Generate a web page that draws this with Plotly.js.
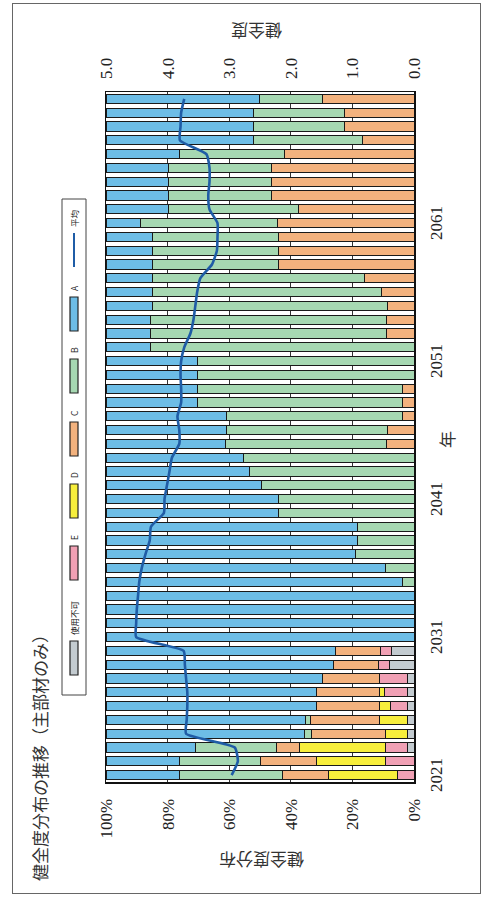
<!DOCTYPE html>
<html>
<head>
<meta charset="utf-8">
<script src="https://cdn.plot.ly/plotly-3.0.1.min.js"></script>
<style>
  html, body { margin:0; padding:0; background:#ffffff; width:491px; height:899px; overflow:hidden; }
  #wrap { position:absolute; left:0; top:0; width:899px; height:491px;
          transform-origin:0 0; transform:translate(0px, 899px) rotate(-90deg); }
  #chart { width:899px; height:491px; }
  #frame { position:absolute; left:12px; top:3px; width:467px; height:889px;
           border:1px solid #666; pointer-events:none; }
</style>
</head>
<body>
<div id="wrap"><div id="chart"></div></div>
<div id="frame"></div>
<script>
// ---- data (years 2021-2070), values in % ----
const years = [2021,2022,2023,2024,2025,2026,2027,2028,2029,2030,
               2031,2032,2033,2034,2035,2036,2037,2038,2039,2040,
               2041,2042,2043,2044,2045,2046,2047,2048,2049,2050,
               2051,2052,2053,2054,2055,2056,2057,2058,2059,2060,
               2061,2062,2063,2064,2065,2066,2067,2068,2069,2070];

const unusable = [0,0,2,2,2.2,2,2,2.2,7.8,7.3,
                  0,0,0,0,0,0,0,0,0,0,
                  0,0,0,0,0,0,0,0,0,0,
                  0,0,0,0,0,0,0,0,0,0,
                  0,0,0,0,0,0,0,0,0,0];
const gradeE = [5.5,9.3,7.4,0,0,5.6,7.6,9,3.7,3.5,
                0,0,0,0,0,0,0,0,0,0,
                0,0,0,0,0,0,0,0,0,0,
                0,0,0,0,0,0,0,0,0,0,
                0,0,0,0,0,0,0,0,0,0];
const gradeD = [22.4,22.2,27.8,7.4,9,3.5,1.6,0,0,0,
                0,0,0,0,0,0,0,0,0,0,
                0,0,0,0,0,0,0,0,0,0,
                0,0,0,0,0,0,0,0,0,0,
                0,0,0,0,0,0,0,0,0,0];
const gradeC = [14.8,18.4,7.4,24,22.5,20.4,20.4,18.4,14.5,14.7,
                0,0,0,0,0,0,0,0,0,0,
                0,0,0,0,8.9,8.7,3.6,3.6,3.6,0,
                0,0,9,9,8.7,10.5,16,44,44,44,
                44.4,37.4,46.3,46.3,46.3,42,16.7,22.5,22.5,29.8];
const gradeB = [33.4,26.2,26.2,2,1.6,0,0,0,0,0,
                0,0,0,0,3.8,9.2,19,18.4,18.4,43.9,
                43.9,49.6,53.5,55.3,52.4,52.3,57.4,66.8,66.8,70.4,
                70.4,85.4,76.4,76.4,76.3,74.5,69,41,41,41,
                44.4,42.2,33.4,33.4,33.4,34,35.3,29.5,29.5,20.3];
const gradeA = [23.9,23.9,29.2,64.6,64.7,68.5,68.4,70.4,74,74.5,
                100,100,100,100,96.2,90.8,81,81.6,81.6,56.1,
                56.1,50.4,46.5,44.7,38.7,39,39,29.6,29.6,29.6,
                29.6,14.6,14.6,14.6,15,15,15,15,15,15,
                11.2,20.4,20.3,20.3,20.3,24,48,48,48,49.9];
const average = [2.96,2.86,2.91,3.70,3.69,3.68,3.68,3.70,3.72,3.74,
                 4.51,4.51,4.50,4.48,4.46,4.42,4.36,4.29,4.27,4.06,
                 4.05,4.01,3.97,3.93,3.81,3.81,3.84,3.78,3.78,3.79,
                 3.78,3.73,3.63,3.58,3.55,3.52,3.47,3.28,3.20,3.19,
                 3.19,3.32,3.34,3.32,3.32,3.37,3.80,3.79,3.78,3.73];

const pctTicks = [0,20,40,60,80,100];
const scoreTicks = [0,1,2,3,4,5];
const yearTicks = [2021,2031,2041,2051,2061];

const seriesNames = ['使用不可','E','D','C','B','A'];
const seriesData  = [unusable, gradeE, gradeD, gradeC, gradeB, gradeA];
const seriesColors = ['#C3CBD0','#F0A0B4','#F7EE3C','#F3B27E','#A6D8B2','#6DBDE6'];
const lineName = '平均';
const lineColor = '#1F5CA6';

// ---- geometry of the (unrotated) chart ----
const W = 899, H = 491;
const M = {l:117, r:92, t:106, b:77};
const PW = W - M.l - M.r, PH = H - M.t - M.b;
function px(ox){ return (ox - M.l) / PW; }
function py(oy){ return 1 - (oy - M.t) / PH; }

const traces = seriesNames.map((n, i) => ({
  type:'bar', name:n, x:years, y:seriesData[i],
  marker:{color:seriesColors[i], line:{color:'#1a1a1a', width:1}},
  showlegend:false, hoverinfo:'skip'
}));
traces.push({
  type:'scatter', mode:'lines', name:lineName, x:years, y:average, yaxis:'y2',
  line:{color:lineColor, width:2.6, shape:'spline', smoothing:0.5},
  showlegend:false, hoverinfo:'skip'
});

const tickFont = {family:'Liberation Serif, Times New Roman, serif', size:17, color:'#222'};
const jpFont = 'Noto Sans CJK JP, sans-serif';

// ---- hand-built legend (long swatches like the original) ----
const shapes = [];
const annotations = [];
shapes.push({type:'rect', xref:'paper', yref:'paper', x0:px(204), x1:px(700), y0:py(86), y1:py(62),
             line:{color:'#444', width:1}, fillcolor:'rgba(255,255,255,0)'});
const legendX = [224, 319, 381, 443, 506, 568];
seriesNames.forEach((n, i) => {
  const sx = legendX[i];
  shapes.push({type:'rect', xref:'paper', yref:'paper', x0:px(sx), x1:px(sx+34), y0:py(78), y1:py(70),
               line:{color:'#222', width:1.2}, fillcolor:seriesColors[i]});
  annotations.push({xref:'paper', yref:'paper', x:px(sx+38), y:py(74), xanchor:'left', yanchor:'middle',
                    text:n, showarrow:false, font:{family:jpFont, size:8.5, color:'#222'}});
});
shapes.push({type:'line', xref:'paper', yref:'paper', x0:px(632), x1:px(666), y0:py(74), y1:py(74),
             line:{color:lineColor, width:2}});
annotations.push({xref:'paper', yref:'paper', x:px(670), y:py(74), xanchor:'left', yanchor:'middle',
                  text:lineName, showarrow:false, font:{family:jpFont, size:8.5, color:'#222'}});

// titles
annotations.push({xref:'paper', yref:'paper', x:px(16), y:py(39), xanchor:'left', yanchor:'middle',
                  text:'健全度分布の推移（主部材のみ）', showarrow:false,
                  font:{family:jpFont, size:17, color:'#333'}});
annotations.push({xref:'paper', yref:'paper', x:px(38), y:py(262), xanchor:'center', yanchor:'middle',
                  text:'健全度分布', textangle:-90, showarrow:false,
                  font:{family:jpFont, size:17, color:'#333'}});
annotations.push({xref:'paper', yref:'paper', x:px(867), y:py(257), xanchor:'center', yanchor:'middle',
                  text:'健全度', textangle:-90, showarrow:false,
                  font:{family:jpFont, size:17, color:'#333'}});
annotations.push({xref:'paper', yref:'paper', x:px(459), y:py(446), xanchor:'center', yanchor:'middle',
                  text:'年', showarrow:false, font:{family:jpFont, size:17, color:'#333'}});

const layout = {
  width:W, height:H, margin:M,
  paper_bgcolor:'rgba(0,0,0,0)', plot_bgcolor:'#ffffff',
  barmode:'stack', bargap:0.32, showlegend:false, hovermode:false,
  xaxis:{range:[2020.5, 2070.5], tickvals:yearTicks, ticktext:yearTicks.map(String),
         showgrid:false, zeroline:false, showline:true, mirror:true, linecolor:'#111', linewidth:1.5,
         ticks:'', ticklabelstandoff:6, tickfont:tickFont},
  yaxis:{range:[0,100], tickvals:pctTicks, ticktext:pctTicks.map(v => v + '%'),
         showgrid:true, gridcolor:'#333', gridwidth:1, zeroline:false,
         showline:true, mirror:true, linecolor:'#111', linewidth:1.5,
         ticks:'', ticklabelstandoff:12, tickfont:tickFont},
  yaxis2:{range:[0,5], tickvals:scoreTicks, ticktext:scoreTicks.map(v => v.toFixed(1)),
          overlaying:'y', side:'right', showgrid:false, zeroline:false, showline:false,
          ticks:'', ticklabelstandoff:12, tickfont:tickFont},
  shapes:shapes, annotations:annotations
};

Plotly.newPlot('chart', traces, layout, {displayModeBar:false, staticPlot:true});
</script>
</body>
</html>
